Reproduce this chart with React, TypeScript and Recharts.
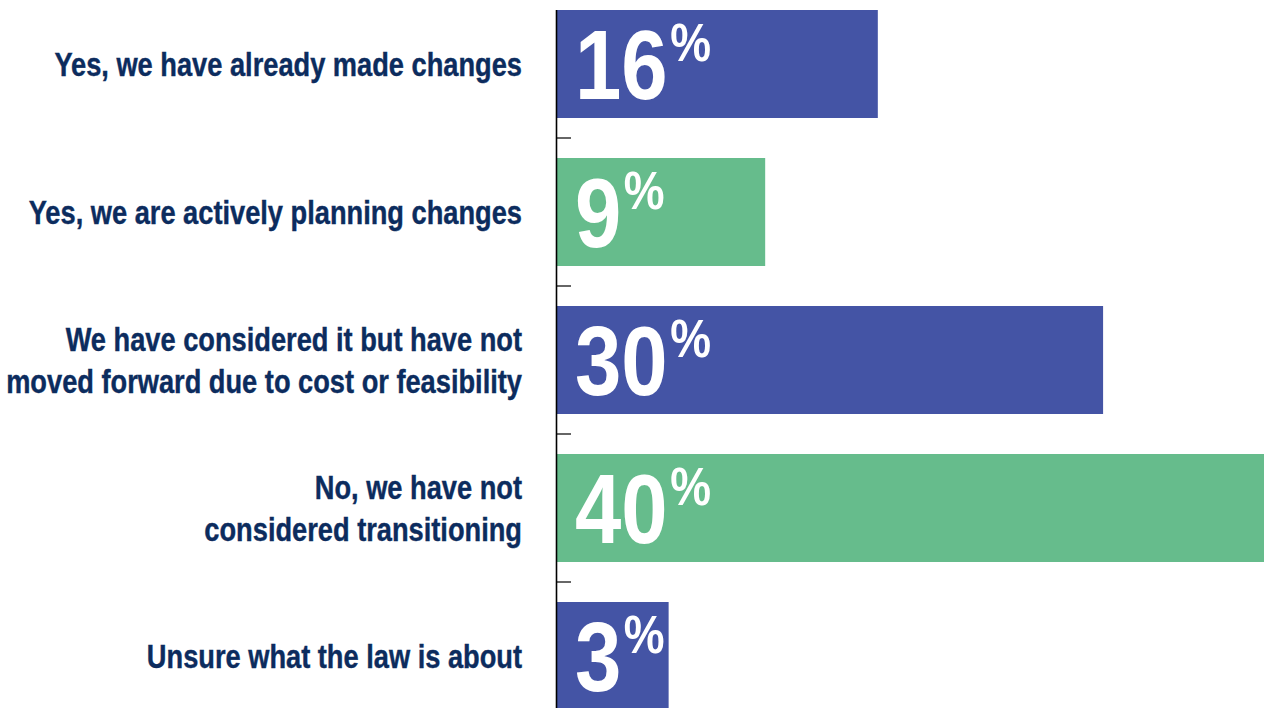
import React from "react";
import { BarChart, Bar, XAxis, YAxis, Cell, LabelList } from "recharts";

const categoryLines: string[][] = [
  ["Yes, we have already made changes"],
  ["Yes, we are actively planning changes"],
  ["We have considered it but have not", "moved forward due to cost or feasibility"],
  ["No, we have not", "considered transitioning"],
  ["Unsure what the law is about"],
];
const categories = categoryLines.map((l) => l.join(" "));
const values = [16, 9, 30, 40, 3];
const barColors = ["#4454A5", "#66BC8C", "#4454A5", "#66BC8C", "#4454A5"];

const AXIS_START = -4;
const AXIS_END = 40;
const BAR_SIZE = 108;

const data = categories.map((name, i) => ({ name, value: values[i] }));

const FONT = "'Liberation Sans', Arial, sans-serif";
const NAVY = "#0C2C5E";
const SQUEEZE = 0.825;

const CategoryTick = (props: any) => {
  const { x, y, payload } = props;
  const lines = categoryLines[payload.index] || [payload.value];
  const half = payload.offset || 0;
  const isFirst = payload.index === 0;
  const isLast = payload.index === categories.length - 1;
  const lh = 42;
  const first = -((lines.length - 1) * lh) / 2 + 12;
  return (
    <g>
      <line
        x1={x + 0.5}
        x2={x + 0.5}
        y1={isFirst ? y - BAR_SIZE / 2 : y - half}
        y2={y + half}
        stroke="#000"
        strokeWidth={1.6}
      />
      {!isLast && (
        <line x1={x} x2={x + 15} y1={y + half} y2={y + half} stroke="#000" strokeWidth={1.2} />
      )}
      <g transform={`translate(${x - 34},${y}) scale(${SQUEEZE},1)`}>
        <text
          textAnchor="end"
          fill={NAVY}
          stroke={NAVY}
          strokeWidth={0.4}
          fontSize={33}
          fontWeight="bold"
          fontFamily={FONT}
        >
          {lines.map((ln, i) => (
            <tspan key={i} x={0} y={first + i * lh}>
              {ln}
            </tspan>
          ))}
        </text>
      </g>
    </g>
  );
};

const ValueLabel = (props: any) => {
  const { x, y, height, index } = props;
  const v = values[index];
  const cy = y + height / 2;
  return (
    <g transform={`translate(${x + 19},${cy + 35}) scale(0.85,1)`}>
      <text x={0} y={0} fill="#FFFFFF" fontFamily={FONT} fontWeight="bold">
        <tspan fontSize={98}>{v}</tspan>
        <tspan fontSize={54} dy={-38} dx={3}>%</tspan>
      </text>
    </g>
  );
};

export default function App() {
  return (
    <div
      style={{
        position: "absolute",
        left: 0,
        top: 0,
        width: 1264,
        height: 708,
        overflow: "hidden",
        background: "#fff",
      }}
    >
      <div style={{ position: "absolute", left: 0, top: -10 }}>
        <BarChart
          layout="vertical"
          width={1264}
          height={740}
          data={data}
          margin={{ top: 0, right: 0, bottom: 0, left: 0 }}
        >
          <XAxis type="number" domain={[AXIS_START, AXIS_END]} allowDataOverflow hide />
          <YAxis
            type="category"
            dataKey="name"
            width={556}
            interval={0}
            tickSize={0}
            tickMargin={0}
            tickLine={false}
            axisLine={false}
            tick={<CategoryTick />}
          />
          <Bar
            dataKey={(d: any) => [AXIS_START, d.value]}
            barSize={BAR_SIZE}
            isAnimationActive={false}
          >
            {data.map((_, i) => (
              <Cell key={i} fill={barColors[i]} />
            ))}
            <LabelList content={<ValueLabel />} />
          </Bar>
        </BarChart>
      </div>
    </div>
  );
}
